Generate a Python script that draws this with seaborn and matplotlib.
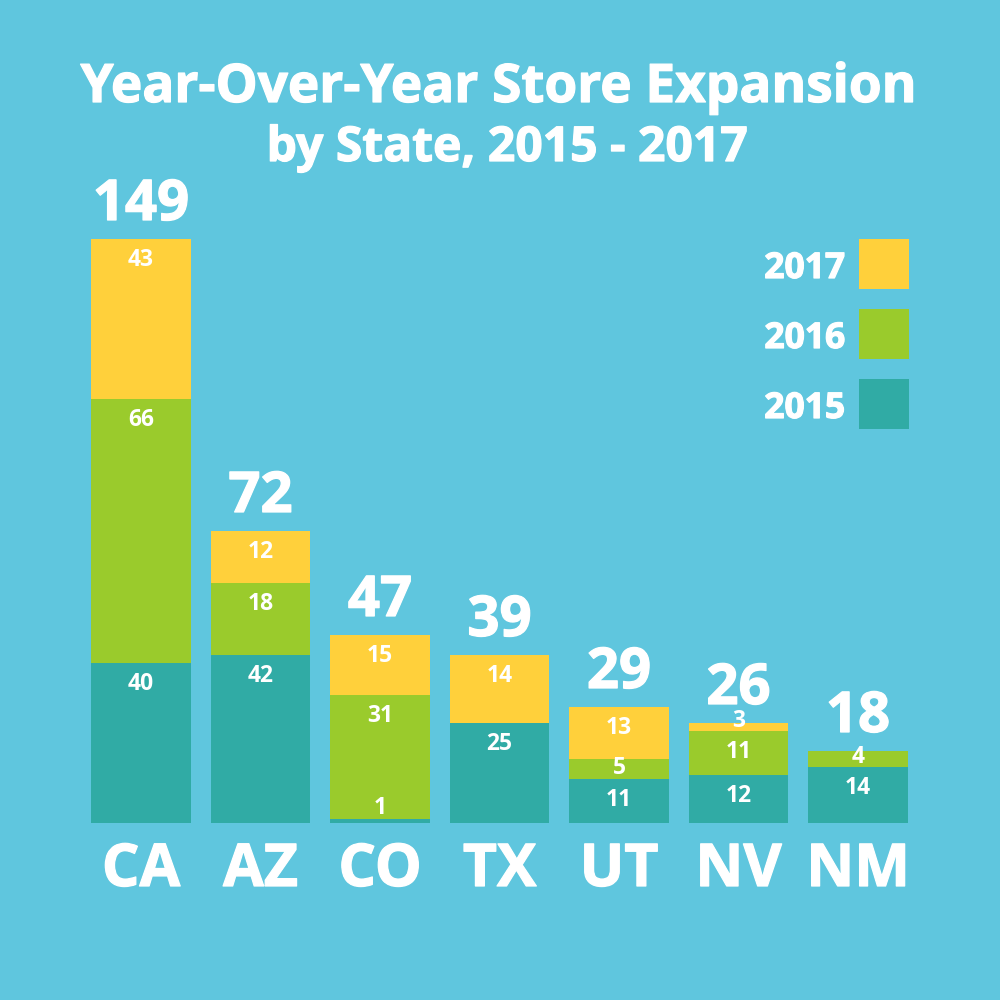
import matplotlib
matplotlib.use("Agg")
import matplotlib.pyplot as plt
import matplotlib.patheffects as pe
import seaborn as sns
from matplotlib.patches import Rectangle

states = ["CA", "AZ", "CO", "TX", "UT", "NV", "NM"]
# printed labels
label_2015 = [40, 42, 1, 25, 11, 12, 14]
label_2016 = [66, 18, 31, None, 5, 11, 4]
label_2017 = [43, 12, 15, 14, 13, 3, None]
totals = [149, 72, 47, 39, 29, 26, 18]
# heights as drawn in the picture (they differ from a few printed labels)
height_2015 = [40, 42, 1, 25, 11, 12, 14]
height_2016 = [66, 18, 31, 0, 5, 11, 4]
height_2017 = [40, 13, 15, 17, 13, 2, 0]
legend_years = ["2017", "2016", "2015"]
title_lines = ["Year-Over-Year Store Expansion", "by State, 2015 - 2017"]

BG = "#5FC6DE"
COLORS = {"2015": "#30ABA5", "2016": "#9ACB2C", "2017": "#FFD03B"}
WHITE = "white"
FONT = "Open Sans"
# thin white outline to reach the reference's heavier letterforms
HEAVY = [pe.withStroke(linewidth=0.9, foreground=WHITE)]

sns.set_theme(style="white", rc={"font.family": FONT})
plt.rcParams["font.family"] = [FONT, "DejaVu Sans"]

fig = plt.figure(figsize=(10, 10), dpi=100, facecolor=BG)
# axes spans the figure width down to the baseline at 823 px; 4 px per unit
ax = fig.add_axes([0.0, 1 - 0.823, 1.0, 0.823])
ax.set_facecolor(BG)

cum2015 = height_2015
cum2016 = [a + b for a, b in zip(cum2015, height_2016)]
cum2017 = [a + b for a, b in zip(cum2016, height_2017)]
# tallest layer first, each lower layer drawn over it
for y, cum in zip(legend_years, [cum2017, cum2016, cum2015]):
    sns.barplot(x=states, y=cum, color=COLORS[y], width=0.83, saturation=1,
                ax=ax, linewidth=0, order=states)

STEP = 119.5
ax.set_xlim(-141 / STEP, (1000 - 141) / STEP)
ax.set_ylim(0, 823 / 4)
ax.axis("off")

# text baseline below segment top, in data units; small segments are special-cased
DEFAULT_DROP = 6.75
SPECIAL_DROP = {1: -1.25, 3: 1.0, 4: 3.0, 5: 3.75}

for i, s in enumerate(states):
    ax.text(i, -15.75, s, ha="center", va="baseline", color=WHITE, fontsize=42.5,
            fontweight="bold", clip_on=False, path_effects=HEAVY)
    ax.text(i, cum2017[i] + 4.75, str(totals[i]), ha="center", va="baseline",
            color=WHITE, fontsize=40.5, fontweight="bold", clip_on=False, path_effects=HEAVY)
    for labels, cum in ((label_2015, cum2015), (label_2016, cum2016), (label_2017, cum2017)):
        lab = labels[i]
        if lab is None:
            continue
        drop = SPECIAL_DROP.get(lab, DEFAULT_DROP)
        ax.text(i, cum[i] - drop, str(lab), ha="center", va="baseline",
                color=WHITE, fontsize=16.5, fontweight="bold", clip_on=False)

for i, y in enumerate(legend_years):
    top = 239 + i * 70
    fig.patches.append(Rectangle((0.859, 1 - (top + 50) / 1000), 0.05, 0.05,
                                 transform=fig.transFigure, color=COLORS[y], lw=0))
    fig.text(0.845, 1 - (top + 39) / 1000, y, ha="right", va="baseline", color=WHITE,
             fontsize=25.5, fontweight="bold", path_effects=HEAVY)

fig.text(0.498, 1 - 102 / 1000, title_lines[0], ha="center", va="baseline", color=WHITE,
         fontsize=38.2, fontweight="bold", path_effects=HEAVY)
fig.text(0.507, 1 - 161 / 1000, title_lines[1], ha="center", va="baseline", color=WHITE,
         fontsize=34.6, fontweight="bold", path_effects=HEAVY)

fig.savefig("out.png", dpi=100, facecolor=BG)
